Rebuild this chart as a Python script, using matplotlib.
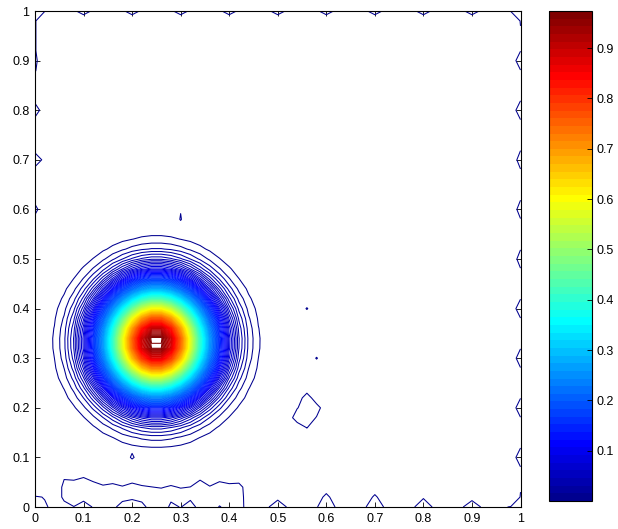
import numpy as np
import matplotlib
matplotlib.use('Agg')
import matplotlib.pyplot as plt
from matplotlib.colors import ListedColormap, Normalize
from matplotlib.cm import ScalarMappable

# --- smooth hill (solution field) ---
n_nodes = 51                 # 51 x 51 nodes on the unit square
hill_center = (0.25, 0.333)
hill_peak = 0.99
hill_sigma = 0.067
n_levels = 150

# --- numerical noise near the boundary, in units of one contour interval ---
edge_base_top = 0.8
edge_base_bottom = 0.9
edge_base_left = 0.6
edge_base_right = 0.95

top_notch_x = [0.1, 0.2, 0.3, 0.4, 0.5, 0.6, 0.7, 0.8, 0.9]
top_notch_v = [1.6, 1.6, 1.6, 1.6, 1.6, 1.6, 1.6, 1.6, 1.6]

right_notch_y = [0.1, 0.2, 0.3, 0.4, 0.5, 0.6, 0.7, 0.8, 0.9]
right_notch_v = [1.9, 1.9, 1.8, 1.9, 1.6, 1.6, 1.6, 1.9, 1.9]

left_notch_y = [0.6, 0.7, 0.8, 0.88, 0.9, 0.92, 0.94, 0.96, 0.98]
left_notch_v = [1.43, 1.9, 1.9, 1.1, 1.3, 1.1, 1.1, 1.1, 1.1]

bottom_bump_x = [0.5, 0.6, 0.7, 0.8, 0.9]
bottom_bump_v0 = [1.9, 1.9, 1.9, 1.9, 1.9]     # on the edge
bottom_bump_v2 = [0.6, 1.54, 1.33, 0.84, 0.5]  # one node inside

# corners and odd nodes: x, y, value
spot_x = [0.0, 0.02, 1.0, 0.98, 1.0, 1.0, 0.98, 1.0, 0.0, 0.02, 0.0, 0.02, 0.0, 0.02,
          0.2, 0.56, 0.58, 0.30, 0.30,
          0.56, 0.56, 0.56, 0.58, 0.56, 0.54, 0.54, 0.58]
spot_y = [1.0, 1.0, 1.0, 1.0, 0.98, 0.0, 0.0, 0.02, 0.0, 0.0, 0.02, 0.02, 0.04, 0.7,
          0.1, 0.40, 0.30, 0.58, 0.60,
          0.20, 0.18, 0.22, 0.20, 0.16, 0.18, 0.20, 0.18]
spot_v = [1.9, 1.05, 1.9, 1.05, 1.05, 1.9, 1.05, 1.05, 1.9, 1.05, 1.05, 0.98, 0.5, 0.6,
          0.9, 1.1, 1.1, 0.95, 0.9,
          1.9, 1.9, 1.9, 1.67, 1.05, 1.9, 0.9, 0.9]

# band of noise along the bottom left edge, rows y = 0, 0.02, 0.04, 0.06
band_x = [0.06, 0.08, 0.10, 0.12, 0.14, 0.16, 0.18, 0.20, 0.22, 0.24,
          0.26, 0.28, 0.30, 0.32, 0.34, 0.36, 0.38, 0.40, 0.42]
band_row0 = [0.5, 0.95, 0.3, 1.1, 1.9, 1.3, 0.5, 0.3, 0.6, 1.5,
             1.9, 0.7, 1.05, 0.4, 1.5, 1.9, 0.9, 1.5, 1.1]
band_row2 = [1.33, 1.9, 1.5, 1.9, 1.9, 1.9, 1.4, 1.23, 1.4, 1.9,
             1.9, 1.3, 1.9, 1.3, 1.9, 1.9, 1.8, 1.9, 1.9]
band_row4 = [1.33, 1.9, 1.9, 1.9, 1.25, 1.54, 1.11, 1.67, 1.18, 1.02,
             0.89, 1.18, 0.89, 1.02, 1.9, 1.11, 1.9, 1.54, 1.67]
band_row6 = [0.9, 0.61, 0.97, 0.26, 0.0, 0.0, 0.0, 0.0, 0.0, 0.0,
             0.0, 0.0, 0.0, 0.0, 0.61, 0.0, 0.26, 0.0, 0.0]

tick_vals = [0, 0.1, 0.2, 0.3, 0.4, 0.5, 0.6, 0.7, 0.8, 0.9, 1]
tick_labels = ['0', '0.1', '0.2', '0.3', '0.4', '0.5', '0.6', '0.7', '0.8', '0.9', '1']
cbar_ticks = [0.1, 0.2, 0.3, 0.4, 0.5, 0.6, 0.7, 0.8, 0.9]


def matlab_jet(m=64):
    n = int(np.ceil(m / 4))
    u = np.concatenate([np.arange(1, n + 1) / n, np.ones(n - 1), np.arange(n, 0, -1) / n])
    g = int(np.ceil(n / 2)) - (1 if m % 4 == 1 else 0) + np.arange(1, len(u) + 1)
    r = g + n
    b = g - n
    J = np.zeros((m, 3))
    J[r[r <= m] - 1, 0] = u[r <= m]
    J[g[g <= m] - 1, 1] = u[g <= m]
    J[b[b > 0] - 1, 2] = u[b > 0]
    return J


def idx(v):
    return int(round(v * (n_nodes - 1)))


# --- build the field ---
xs = np.linspace(0, 1, n_nodes)
X, Y = np.meshgrid(xs, xs)
Z = hill_peak * np.exp(-((X - hill_center[0])**2 + (Y - hill_center[1])**2) / (2 * hill_sigma**2))

level_step = Z.max() / (n_levels + 1)
noise = np.zeros_like(Z)
noise[-1, :] = edge_base_top
noise[0, :] = edge_base_bottom
noise[:, 0] = edge_base_left
noise[:, -1] = edge_base_right
for x, v in zip(top_notch_x, top_notch_v):
    noise[-1, idx(x)] = v
for y, v in zip(right_notch_y, right_notch_v):
    noise[idx(y), -1] = v
for y, v in zip(left_notch_y, left_notch_v):
    noise[idx(y), 0] = v
for x, v0, v2 in zip(bottom_bump_x, bottom_bump_v0, bottom_bump_v2):
    noise[0, idx(x)] = v0
    noise[1, idx(x)] = v2
for x, r0, r2, r4, r6 in zip(band_x, band_row0, band_row2, band_row4, band_row6):
    noise[0, idx(x)] = r0
    noise[1, idx(x)] = r2
    noise[2, idx(x)] = r4
    noise[3, idx(x)] = r6
for x, y, v in zip(spot_x, spot_y, spot_v):
    noise[idx(y), idx(x)] = v
Z = Z + noise * level_step

levels = level_step * np.arange(1, n_levels + 1)
cmap = ListedColormap(matlab_jet(64))
norm = Normalize(vmin=Z.min(), vmax=Z.max())

# --- plot ---
plt.rcParams['font.family'] = ['Liberation Sans', 'DejaVu Sans']
fig = plt.figure(figsize=(6.18, 5.29), dpi=100)
ax = fig.add_axes([35 / 618, 22 / 529, 485.5 / 618, 496 / 529])
ax.contour(X, Y, Z, levels=levels, cmap=cmap, norm=norm, linewidths=0.75)
ax.set_xlim(0, 1)
ax.set_ylim(0, 1)
ax.set_xticks(tick_vals)
ax.set_xticklabels(tick_labels)
ax.set_yticks(tick_vals)
ax.set_yticklabels(tick_labels)
ax.tick_params(direction='in', length=3.5, width=0.6, labelsize=9,
               top=True, right=True, pad=4)
for sp in ax.spines.values():
    sp.set_linewidth(0.8)

cax = fig.add_axes([549 / 618, 28 / 529, 43 / 618, 490 / 529])
cb = fig.colorbar(ScalarMappable(norm=norm, cmap=cmap), cax=cax)
cb.set_ticks(cbar_ticks)
cb.set_ticklabels([str(t) for t in cbar_ticks])
cax.tick_params(direction='in', length=3.5, width=0.6, labelsize=9, pad=3)
cb.outline.set_linewidth(0.8)

fig.savefig('out.png', dpi=100)
